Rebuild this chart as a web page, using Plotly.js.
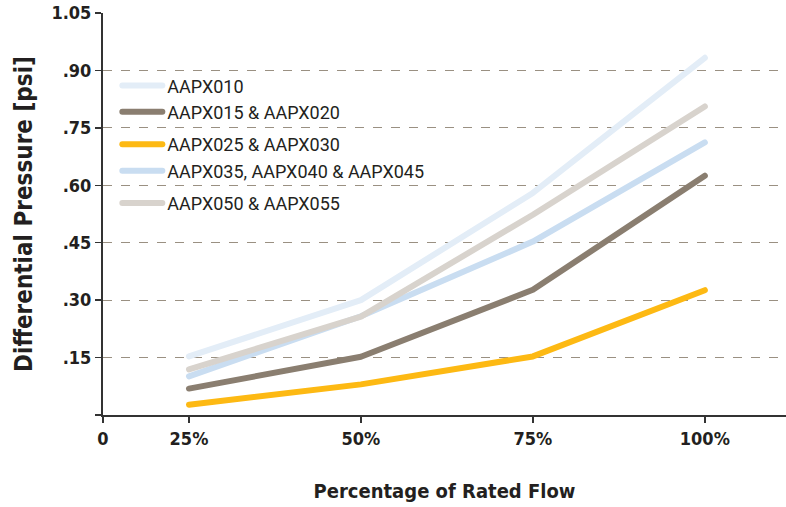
<!DOCTYPE html>
<html>
<head>
<meta charset="utf-8">
<script src="https://cdn.plot.ly/plotly-3.0.1.min.js"></script>
<style>
html,body{margin:0;padding:0;background:#fff;}
#chart{width:786px;height:507px;}
.scatterlayer path.js-line, .legend path.js-line { stroke-linecap: round; stroke-linejoin: round; }
</style>
</head>
<body>
<div id="chart"></div>
<script>
const flowX = [25, 50, 75, 100];
const seriesNames = ["AAPX010", "AAPX015 & AAPX020", "AAPX025 & AAPX030", "AAPX035, AAPX040 & AAPX045", "AAPX050 & AAPX055"];
const aapx010 = [0.153, 0.300, 0.580, 0.933];
const aapx015 = [0.069, 0.152, 0.327, 0.625];
const aapx025 = [0.027, 0.080, 0.153, 0.326];
const aapx035 = [0.101, 0.258, 0.453, 0.712];
const aapx050 = [0.119, 0.257, 0.523, 0.806];
const seriesColors = ["#e3edf7", "#8a7e70", "#fdb913", "#c9ddf1", "#d8d3cd"];
const seriesGroups = ["g1", "g1", "g2", "g2", "g3"];
const xTickVals = [12.5, 25, 50, 75, 100];
const xTickText = ["0", "25%", "50%", "75%", "100%"];
const yTickVals = [0, 0.15, 0.30, 0.45, 0.60, 0.75, 0.90, 1.05];
const yTickText = ["", ".15", ".30", ".45", ".60", ".75", ".90", "1.05"];

const values = [aapx010, aapx015, aapx025, aapx035, aapx050];
const traces = values.map((v, i) => ({
  x: flowX, y: v, type: "scatter", mode: "lines", name: seriesNames[i],
  legendgroup: seriesGroups[i],
  line: {color: seriesColors[i], width: 6}
}));

const boldFont = "'Liberation Sans Narrow', 'DejaVu Sans Condensed', Roboto, sans-serif";

const layout = {
  width: 786, height: 507,
  margin: {l: 103, r: 0, t: 13, b: 92},
  paper_bgcolor: "#fff", plot_bgcolor: "#fff",
  showlegend: true,
  legend: {
    x: 0.021, y: 0.865, xanchor: "left", yanchor: "top",
    bgcolor: "rgba(0,0,0,0)", itemwidth: 40, tracegroupgap: 6,
    font: {family: "Roboto, sans-serif", size: 18, color: "#231f20"}
  },
  xaxis: {
    range: [12.5, 111.8], tickmode: "array", tickvals: xTickVals, ticktext: xTickText,
    showgrid: false, zeroline: false, showline: true, linecolor: "#333", linewidth: 2,
    ticks: "outside", ticklen: 6, tickcolor: "#333", tickwidth: 1.5,
    tickfont: {family: boldFont, size: 18, color: "#231f20", weight: "bold"},
    title: {text: "<b>Percentage of Rated Flow</b>", standoff: 36,
      font: {family: boldFont, size: 20, color: "#231f20"}}
  },
  yaxis: {
    range: [0, 1.05], tickmode: "array", tickvals: yTickVals, ticktext: yTickText,
    showgrid: true, gridcolor: "#9a9082", griddash: "dash", gridwidth: 1,
    zeroline: false, showline: true, linecolor: "#333", linewidth: 2,
    ticks: "outside", ticklen: 6, tickcolor: "#333", tickwidth: 1.5,
    tickfont: {family: boldFont, size: 18, color: "#231f20", weight: "bold"},
    title: {text: "<b>Differential Pressure [psi]</b>", standoff: 12,
      font: {family: boldFont, size: 24, color: "#231f20"}}
  }
};

Plotly.newPlot("chart", traces, layout, {displayModeBar: false, staticPlot: true});
</script>
</body>
</html>
